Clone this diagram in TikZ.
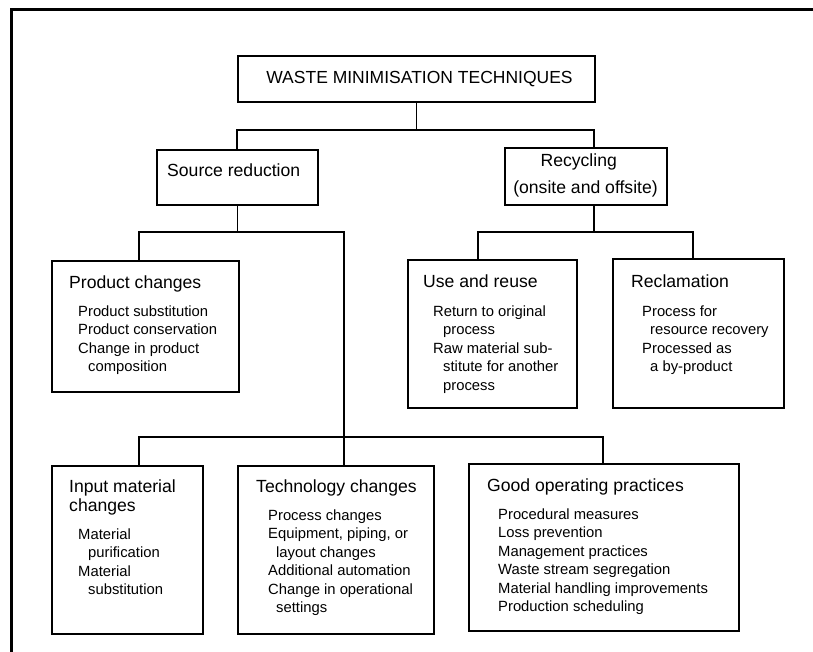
\documentclass[tikz,border=0pt]{standalone}
\usepackage{fontspec}
\setmainfont{Liberation Sans}
\begin{document}
\begin{tikzpicture}[x=1pt,y=-1pt,
  box/.style={draw, line width=1.8pt, rectangle, inner sep=0pt, anchor=north west},
  conn/.style={line width=1.6pt},
  frameline/.style={line width=3pt},
  ttl/.style={inner sep=0pt, anchor=base, font=\fontsize{17.5}{21}\selectfont},
  hd/.style={inner sep=0pt, anchor=base west, font=\fontsize{17.6}{21}\selectfont},
  it/.style={inner sep=0pt, anchor=base west, font=\fontsize{14.8}{18.5}\selectfont}]
\useasboundingbox (0,0) rectangle (813,652);

% outer frame (left and top edges)
\draw[frameline] (11,652) -- (11,10) -- (813,10);

% boxes
\node[box, minimum width=357pt, minimum height=46.5pt] (title) at (237,55) {};
\node[box, minimum width=161pt, minimum height=55pt]   (sr) at (156,149) {};
\node[box, minimum width=162pt, minimum height=57pt]   (rc) at (504,147) {};
\node[box, minimum width=187pt, minimum height=131pt]  (pc) at (51,260) {};
\node[box, minimum width=169pt, minimum height=148pt]  (ur) at (407,259) {};
\node[box, minimum width=171pt, minimum height=149pt]  (rm) at (612,258) {};
\node[box, minimum width=151pt, minimum height=168pt]  (im) at (51,465) {};
\node[box, minimum width=196pt, minimum height=168pt]  (tc) at (237,465) {};
\node[box, minimum width=270pt, minimum height=167pt]  (go) at (468,463) {};

% junction points of the tree
\coordinate (tl) at (237,130);
\coordinate (tr) at (594,130);
\coordinate (sl) at (139,232);
\coordinate (sm) at (344,232);
\coordinate (rl) at (478,232);
\coordinate (rr) at (693,232);
\coordinate (bl) at (139,437);
\coordinate (br) at (603,437);

% connectors
\draw[conn] (title.south) -- (title.south |- tl);
\draw[conn] (tl |- sr.north) -- (tl) -- (tr) -- (tr |- rc.north);
\draw[conn] (sr.south) -- (sr.south |- sl);
\draw[conn] (sl |- pc.north) -- (sl) -- (sm) -- (sm |- tc.north);
\draw[conn] (rc.south -| tr) -- (tr |- rl);
\draw[conn] (rl |- ur.north) -- (rl) -- (rr) -- (rr |- rm.north);
\draw[conn] (bl |- im.north) -- (bl) -- (br) -- (br |- go.north);

% texts
\node[ttl] (title-t) at (419.5,83.5) {WASTE MINIMISATION TECHNIQUES};
\node[hd] (sr-t) at (167,177) {Source reduction};
\node[hd, anchor=base] (rc-t1) at (578.7,166.5) {Recycling};
\node[hd, anchor=base] (rc-t2) at (585.5,194) {(onsite and offsite)};

\node[hd] (pc-h) at (69,288) {Product changes};
\node[it] (pc-1) at (78,316) {Product substitution};
\node[it] (pc-2) at (78,334.5) {Product conservation};
\node[it] (pc-3) at (78,353) {Change in product};
\node[it] (pc-4) at (88,371.5) {composition};

\node[hd] (ur-h) at (423,287.5) {Use and reuse};
\node[it] (ur-1) at (433,316) {Return to original};
\node[it] (ur-2) at (443,334.5) {process};
\node[it] (ur-3) at (433,353) {Raw material sub-};
\node[it] (ur-4) at (443,371.5) {stitute for another};
\node[it] (ur-5) at (443,390) {process};

\node[hd] (rm-h) at (631,287.5) {Reclamation};
\node[it] (rm-1) at (642,316) {Process for};
\node[it] (rm-2) at (650,334.5) {resource recovery};
\node[it] (rm-3) at (642,353) {Processed as};
\node[it] (rm-4) at (650,371.5) {a by-product};

\node[hd] (im-h1) at (69,492.5) {Input material};
\node[hd] (im-h2) at (69,511) {changes};
\node[it] (im-1) at (78,539) {Material};
\node[it] (im-2) at (88,557.5) {purification};
\node[it] (im-3) at (78,576) {Material};
\node[it] (im-4) at (88,594.5) {substitution};

\node[hd] (tc-h) at (256,492.5) {Technology changes};
\node[it] (tc-1) at (268,520) {Process changes};
\node[it] (tc-2) at (268,538.5) {Equipment, piping, or};
\node[it] (tc-3) at (276,557) {layout changes};
\node[it] (tc-4) at (268,575.5) {Additional automation};
\node[it] (tc-5) at (268,594) {Change in operational};
\node[it] (tc-6) at (276,612.5) {settings};

\node[hd] (go-h) at (487,491) {Good operating practices};
\node[it] (go-1) at (498,519.3) {Procedural measures};
\node[it] (go-2) at (498,537.8) {Loss prevention};
\node[it] (go-3) at (498,556.3) {Management practices};
\node[it] (go-4) at (498,574.8) {Waste stream segregation};
\node[it] (go-5) at (498,593.3) {Material handling improvements};
\node[it] (go-6) at (498,611.8) {Production scheduling};
\end{tikzpicture}
\end{document}
